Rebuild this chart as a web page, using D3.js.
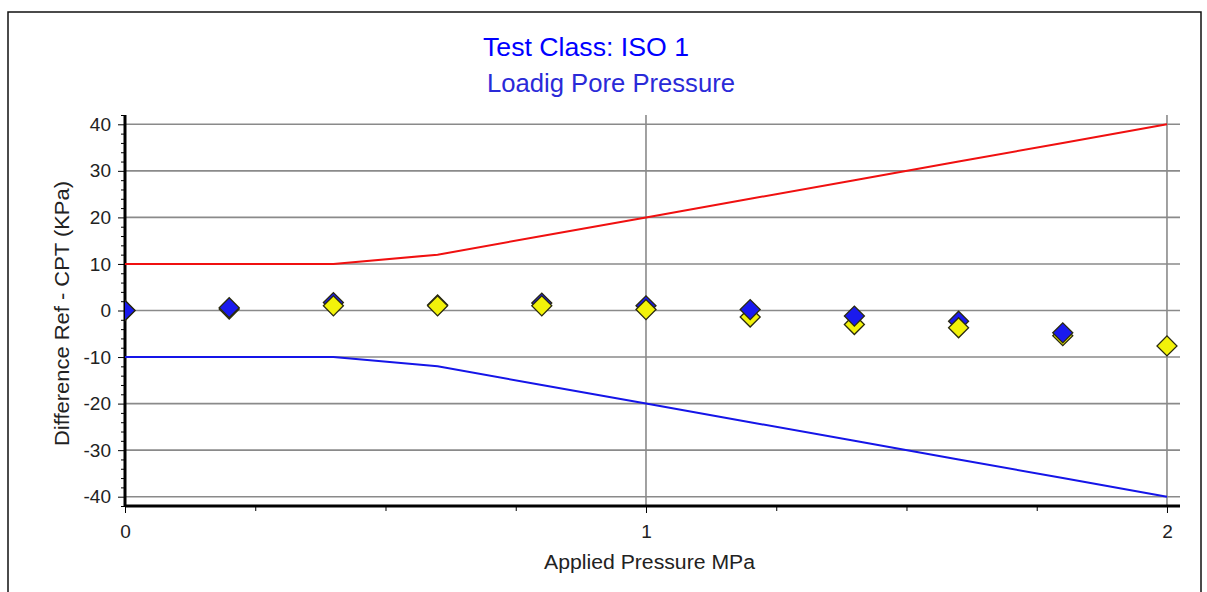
<!DOCTYPE html>
<html>
<head>
<meta charset="utf-8">
<script src="https://cdn.jsdelivr.net/npm/d3@7"></script>
<style>
  body { margin: 0; background: #fff; }
  svg { display: block; font-family: Arial, "Liberation Sans", sans-serif; }
  .grid line { stroke: #8a8a8a; stroke-width: 1.6; }
  .axis path, .axis line { stroke: #000; }
  .axis text { font-size: 19px; fill: #222; font-family: Arial, "Liberation Sans", sans-serif; }
</style>
</head>
<body>
<svg width="1207" height="592"></svg>
<script>
  // applied pressure (MPa)
  const pressures = [0, 0.2, 0.4, 0.6, 0.8, 1.0, 1.2, 1.4, 1.6, 1.8, 2.0];
  // tolerance band (kPa)
  const upperLimit = [10, 10, 10, 12, 16, 20, 24, 28, 32, 36, 40];
  const lowerLimit = [-10, -10, -10, -12, -16, -20, -24, -28, -32, -36, -40];
  // measured differences Ref - CPT (kPa)
  const blueValues = [0, 0.6, 1.7, 1.2, 1.6, 1.0, 0.2, -1.2, -2.3, -4.8];
  const yellowValues = [0, 0.3, 1.0, 1.0, 1.0, 0.2, -1.4, -3.0, -3.7, -5.4, -7.6];
  // points where the yellow marker sits on top of the blue one
  const yellowOnTop = [0.4, 0.6, 0.8, 1.0, 1.6];
  const yTicks = [-40, -30, -20, -10, 0, 10, 20, 30, 40];
  const xTicks = [0, 1, 2];

  const svg = d3.select('svg');
  const margin = {left: 125, top: 115, right: 27, bottom: 86};
  const width = 1207 - margin.left - margin.right;
  const height = 592 - margin.top - margin.bottom;

  // outer frame
  svg.append('path')
    .attr('d', 'M8,600 V12 H1201 V600')
    .attr('fill', 'none')
    .attr('stroke', '#111')
    .attr('stroke-width', 1.5);

  const x = d3.scaleLinear().domain([0, 2.025]).range([0, width]);
  const y = d3.scaleLinear().domain([-42, 42]).range([height, 0]);

  const g = svg.append('g').attr('transform', `translate(${margin.left},${margin.top})`);

  g.append('defs').append('clipPath').attr('id', 'plot')
    .append('rect').attr('x', 0).attr('y', -10).attr('width', width + 10).attr('height', height + 20);

  // grid
  g.append('g').attr('class', 'grid')
    .selectAll('line').data(yTicks).join('line')
    .attr('x1', 0).attr('x2', width)
    .attr('y1', d => y(d)).attr('y2', d => y(d));
  g.append('g').attr('class', 'grid')
    .selectAll('line').data(xTicks.filter(d => d > 0)).join('line')
    .attr('x1', d => x(d)).attr('x2', d => x(d))
    .attr('y1', 0).attr('y2', height);

  // axes
  const yAxis = g.append('g').attr('class', 'axis')
    .call(d3.axisLeft(y).tickValues(yTicks).tickSize(7).tickPadding(7).tickFormat(d => String(d)));
  g.append('g').attr('class', 'axis minor')
    .call(d3.axisLeft(y).tickValues(d3.range(-42, 43, 2).filter(d => d % 10 !== 0)).tickSize(4).tickFormat(''))
    .select('.domain').remove();
  yAxis.select('.domain').attr('d', `M0,0V${height}`).attr('stroke-width', 3);
  yAxis.selectAll('.tick line').attr('stroke', '#555').attr('stroke-width', 1);
  g.selectAll('.minor .tick line').attr('stroke', '#666').attr('stroke-width', 1);

  const xAxis = g.append('g').attr('class', 'axis')
    .attr('transform', `translate(0,${height})`)
    .call(d3.axisBottom(x).tickValues(xTicks).tickSize(7).tickPadding(12).tickFormat(d => String(d)));
  g.append('g').attr('class', 'axis minor-x')
    .attr('transform', `translate(0,${height})`)
    .call(d3.axisBottom(x).tickValues([0.25, 0.5, 0.75, 1.25, 1.5, 1.75]).tickSize(5).tickFormat(''))
    .select('.domain').remove();
  xAxis.select('.domain').attr('d', `M0,0H${width}`).attr('stroke-width', 3);
  xAxis.selectAll('.tick line').attr('stroke', '#555').attr('stroke-width', 1);
  g.selectAll('.minor-x .tick line').attr('stroke', '#666').attr('stroke-width', 1);

  // limit lines
  const line = d3.line().x((d, i) => x(pressures[i])).y(d => y(d));
  g.append('path').datum(upperLimit)
    .attr('d', line).attr('fill', 'none').attr('stroke', '#f01010').attr('stroke-width', 2);
  g.append('path').datum(lowerLimit)
    .attr('d', line).attr('fill', 'none').attr('stroke', '#1515e8').attr('stroke-width', 2);

  // markers
  const points = [
    ...blueValues.map((v, i) => ({p: pressures[i], v, fill: '#1a1aee', z: yellowOnTop.includes(pressures[i]) ? 0 : 1})),
    ...yellowValues.map((v, i) => ({p: pressures[i], v, fill: '#f2f20a', z: yellowOnTop.includes(pressures[i]) ? 1 : 0}))
  ].sort((a, b) => a.z - b.z);

  const diamond = d3.symbol().type(d3.symbolSquare).size(200);
  g.append('g').attr('clip-path', 'url(#plot)')
    .selectAll('path').data(points).join('path')
    .attr('d', diamond)
    .attr('transform', d => `translate(${x(d.p)},${y(d.v)}) rotate(45)`)
    .attr('fill', d => d.fill)
    .attr('stroke', '#2a2a10')
    .attr('stroke-width', 1.3);

  // labels
  svg.append('text')
    .attr('x', 483).attr('y', 56)
    .attr('font-size', 25).attr('fill', '#0000ff')
    .attr('textLength', 206).attr('lengthAdjust', 'spacingAndGlyphs')
    .text('Test Class: ISO 1');
  svg.append('text')
    .attr('x', 487).attr('y', 92)
    .attr('font-size', 25).attr('fill', '#2a2ad8')
    .attr('textLength', 248).attr('lengthAdjust', 'spacingAndGlyphs')
    .text('Loadig Pore Pressure');
  svg.append('text')
    .attr('transform', 'translate(69,446) rotate(-90)')
    .attr('font-size', 20).attr('fill', '#222')
    .attr('textLength', 265).attr('lengthAdjust', 'spacingAndGlyphs')
    .text('Difference Ref - CPT (KPa)');
  svg.append('text')
    .attr('x', 544).attr('y', 569)
    .attr('font-size', 20).attr('fill', '#222')
    .attr('textLength', 211).attr('lengthAdjust', 'spacingAndGlyphs')
    .text('Applied Pressure MPa');
</script>
</body>
</html>
